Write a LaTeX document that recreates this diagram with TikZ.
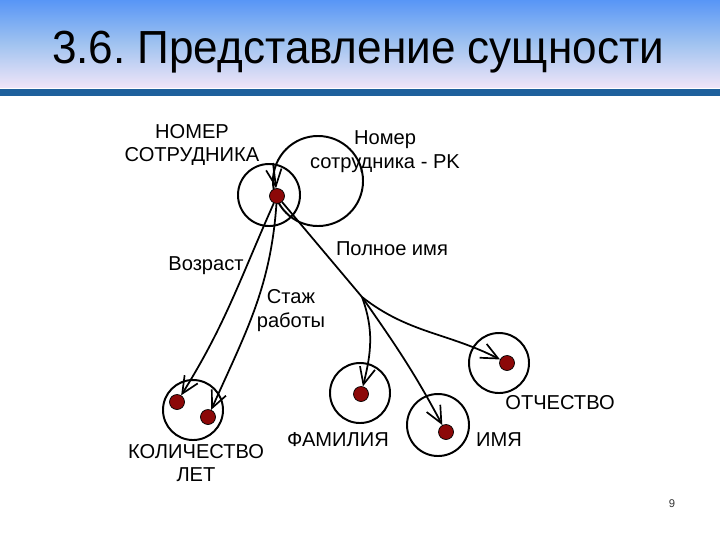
\documentclass[tikz,border=0pt]{standalone}
\usepackage{fontspec}
\setmainfont{Liberation Sans}
\usetikzlibrary{arrows.meta}
\frenchspacing

\definecolor{hdrtop}{RGB}{88,150,246}
\definecolor{hdrmid}{RGB}{160,195,240}
\definecolor{hdrbot}{RGB}{238,228,248}
\definecolor{hdrbar}{RGB}{30,96,156}
\definecolor{dotred}{RGB}{140,8,8}

\begin{document}
\begin{tikzpicture}[x=0.025cm, y=0.025cm]

\tikzset{ring/.style = {shape=circle, draw, line width=1.4pt, inner sep=0pt}}
\tikzset{attr/.style = {shape=circle, draw, fill=dotred, line width=0.5pt, minimum size=0.375cm, inner sep=0pt}}
\tikzset{lbl/.style = {align=center, inner sep=0pt, font=\fontsize{14.3}{17}\selectfont}}
\tikzset{edge/.style = {-{Straight Barb[length=12pt, width=11pt, line width=1.2pt]}, line width=1.25pt}}

\useasboundingbox (0,0) rectangle (720,-540);
%header
\shade[top color=hdrtop, bottom color=hdrbot, middle color=hdrmid] (0,0) rectangle (720,-87);
\fill[hdrbar] (0,-89) rectangle (720,-96);
\node[inner sep=0pt, font=\fontsize{33}{38}\selectfont, xscale=0.95, transform shape] (title) at (358,-52) {3.6. Представление сущности};
%circles
\node[ring, minimum size=1.55cm] (ckey) at (269,-195) {};
\node[ring, minimum size=2.25cm] (cpk) at (318,-181) {};
\node[ring, minimum size=1.5cm] (cyears) at (193,-410) {};
\node[ring, minimum size=1.5cm] (cfam) at (360,-393) {};
\node[ring, minimum size=1.55cm] (cname) at (438,-425) {};
\node[ring, minimum size=1.5cm] (cpatr) at (499,-363) {};
%verticies
\node[attr] (dkey) at (277,-196) {};
\node[attr] (dage) at (177,-402) {};
\node[attr] (dexp) at (208,-417) {};
\node[attr] (dfam) at (361,-394) {};
\node[attr] (dname) at (446,-432) {};
\node[attr] (dpatr) at (507,-363) {};
\coordinate (pk) at (273,-163);
\coordinate (fork) at (362,-297);
%labels
\node[lbl] (lkey) at (192,-145) {НОМЕР\\СОТРУДНИКА};
\node[lbl] (lpk) at (385,-152) {Номер\\сотрудника - PK};
\node[lbl] (lfull) at (392,-249) {Полное имя};
\node[lbl] (lage) at (206,-266) {Возраст};
\node[lbl] (lexp) at (291,-311) {Стаж\\работы};
\node[lbl] (lyears) at (196,-463) {КОЛИЧЕСТВО\\ЛЕТ};
\node[lbl] (lfam) at (338,-440) {ФАМИЛИЯ};
\node[lbl] (lname) at (499,-440) {ИМЯ};
\node[lbl] (lpatr) at (560,-403) {ОТЧЕСТВО};
\node[inner sep=0pt, font=\fontsize{8}{10}\selectfont, text=black!80] (page) at (672,-504) {9};
%edges
\draw[edge] (pk) -- (dkey);
\draw[edge] (dkey) to[out=-114, in=58] (dage);
\draw[edge] (dkey) to[out=-94, in=66] (dexp);
\draw[line width=1.25pt] (dkey) -- (fork);
\draw[edge] (fork) to[out=-70, in=76] (dfam);
\draw[edge] (fork) to[out=-55, in=118] (dname);
\draw[edge] (fork) to[out=-38, in=153] (dpatr);

\end{tikzpicture}
\end{document}
